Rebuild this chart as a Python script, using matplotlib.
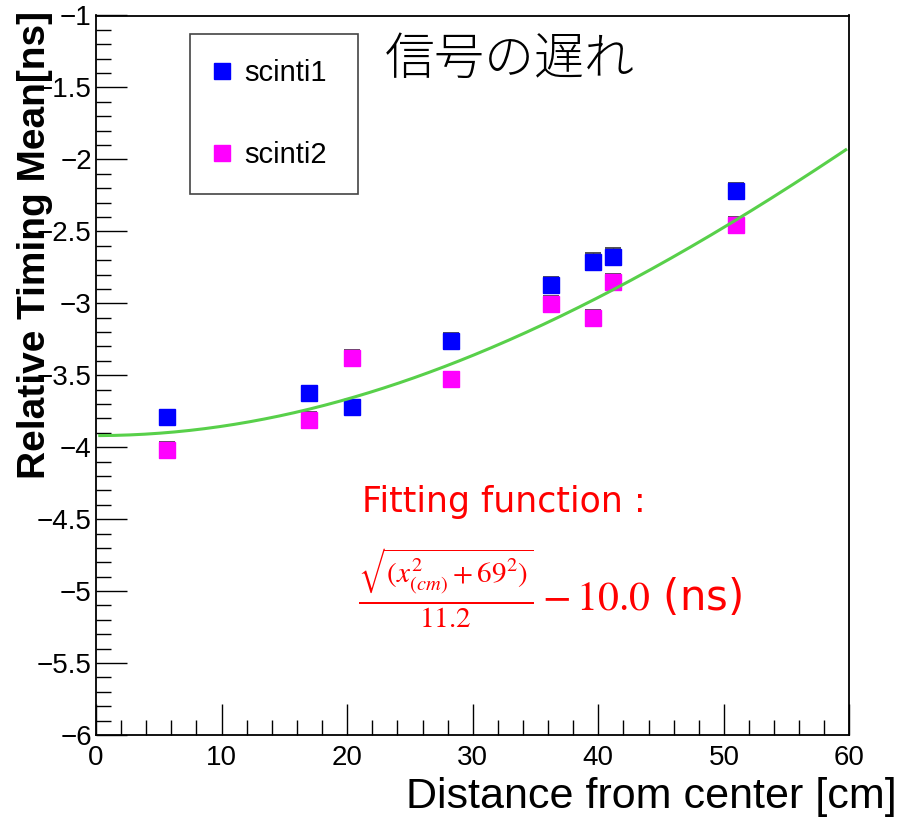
import numpy as np
import matplotlib.pyplot as plt
from matplotlib.ticker import MultipleLocator, FuncFormatter

plt.rcParams['font.family'] = ['Liberation Sans', 'DejaVu Sans']
plt.rcParams['mathtext.fontset'] = 'stix'

# distance of the source from center [cm]
dist = [5.63, 16.96, 20.38, 28.26, 36.22, 39.6, 41.18, 50.93]

# scinti1
s1_mean = [-3.793, -3.624, -3.721, -3.260, -2.872, -2.710, -2.675, -2.219]
s1_err = [0.045, 0.045, 0.045, 0.055, 0.058, 0.058, 0.058, 0.058]
# scinti2
s2_mean = [-4.022, -3.809, -3.381, -3.524, -3.006, -3.103, -2.849, -2.455]
s2_err = [0.055, 0.055, 0.057, 0.05, 0.055, 0.053, 0.055, 0.058]

# fit: sqrt(x^2 + p0^2)/p1 + p2
p0, p1, p2 = 69.0, 11.2, -10.08

fig = plt.figure(figsize=(9.03, 8.18), dpi=100)
ax = fig.add_axes([96/903, 1 - 735/818, (849.5 - 96)/903, (735 - 15.5)/818])

ax.errorbar(dist, s1_mean, yerr=s1_err, fmt='none', ecolor='#333333', elinewidth=1, capsize=5.5, capthick=1.2, zorder=2)
ax.errorbar(dist, s2_mean, yerr=s2_err, fmt='none', ecolor='#333333', elinewidth=1, capsize=5.5, capthick=1.2, zorder=2)
ax.plot(dist, s1_mean, 's', color='#0000ff', ms=11, mec='#0000ff', label='scinti1', zorder=3)
ax.plot(dist, s2_mean, 's', color='#ff00ff', ms=11, mec='#ff00ff', label='scinti2', zorder=3)

xf = np.linspace(0.3, 59.7, 300)
ax.plot(xf, np.sqrt(xf**2 + p0**2)/p1 + p2, color='#58d04a', lw=2.2, zorder=4)

ax.set_xlim(0, 60)
ax.set_ylim(-6, -1)
ax.xaxis.set_major_locator(MultipleLocator(10))
ax.xaxis.set_minor_locator(MultipleLocator(2))
ax.yaxis.set_major_locator(MultipleLocator(0.5))
ax.yaxis.set_minor_locator(MultipleLocator(0.1))
ax.yaxis.set_major_formatter(FuncFormatter(lambda v, p: ('%g' % v).replace('-', '\u2212')))
ax.tick_params(which='both', direction='in', top=False, right=False, width=1, color='black')
ax.tick_params(which='major', length=22)
ax.tick_params(which='minor', length=11)
ax.tick_params(axis='x', labelsize=20, pad=7)
ax.tick_params(axis='y', labelsize=20, pad=3)
for sp in ax.spines.values():
    sp.set_linewidth(1.3)

fig.text(897/903, 1 - 797/818, 'Distance from center [cm]', ha='right', va='center', fontsize=31)
fig.text(35/903, 1 - 245/818, 'Relative Timing Mean[ns]', rotation=90, ha='center', va='center',
         fontsize=28, fontweight='bold')

top = 1 - (34 - 15.5)/719.5
leg = ax.legend(loc='upper left',
                bbox_to_anchor=((190 - 96)/753.5, top - 0.3, 168/753.5, 0.3),
                mode='expand', fontsize=21, frameon=True, fancybox=False, edgecolor='#444444',
                framealpha=1, handlelength=0.5, handletextpad=0.5, labelspacing=1.86,
                borderpad=0.85, borderaxespad=0)
leg.get_frame().set_linewidth(1.2)

fig.text(385/903, 1 - 60/818, '信号の遅れ', fontsize=36, family=['Noto Sans CJK JP'], fontweight='light',
         ha='left', va='center')

fig.text(362/903, 1 - 502/818, 'Fitting function :', fontsize=25, color='red', family=['DejaVu Sans'],
         ha='left', va='center')
fig.text(358/903, 1 - 588/818, r'$\frac{\sqrt{(x^2_{(cm)}+69^2)}}{11.2}-10.0$ (ns)', fontsize=30,
         color='red', family=['DejaVu Sans'], ha='left', va='center')

fig.savefig('out.png', dpi=100)
